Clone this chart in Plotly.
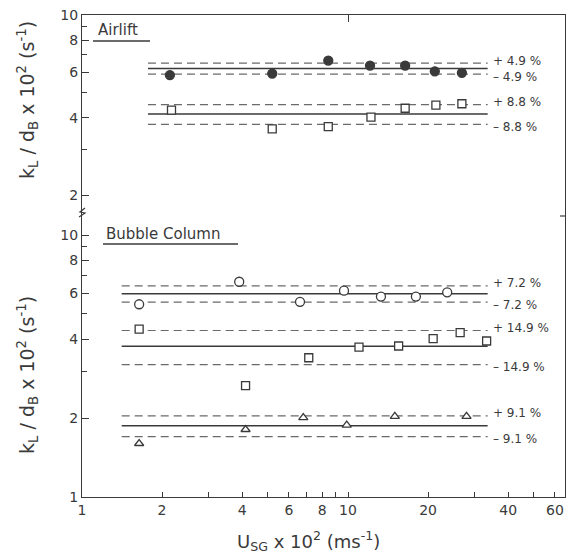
import numpy as np
import plotly.graph_objects as go

# ---------------- data ----------------
# Airlift
air_circ_x = [2.14, 5.19, 8.43, 12.1, 16.4, 21.2, 26.8]
air_circ_y = [5.85, 5.93, 6.66, 6.37, 6.37, 6.05, 5.97]
air_sq_x = [2.17, 5.19, 8.43, 12.2, 16.4, 21.4, 26.8]
air_sq_y = [4.28, 3.62, 3.69, 4.02, 4.35, 4.47, 4.53]
air_means = [6.2, 4.13]
air_pct = [4.9, 8.8]
air_span = [1.77, 33.5]

# Bubble column
bc_circ_x = [1.64, 3.90, 6.60, 9.66, 13.3, 18.0, 23.6]
bc_circ_y = [5.44, 6.63, 5.56, 6.13, 5.82, 5.82, 6.04]
bc_sq_x = [1.64, 4.12, 7.12, 11.0, 15.5, 20.9, 26.4, 33.2]
bc_sq_y = [4.37, 2.66, 3.40, 3.73, 3.77, 4.02, 4.24, 3.94]
bc_tri_x = [1.64, 4.12, 6.79, 9.89, 15.0, 27.9]
bc_tri_y = [1.60, 1.81, 2.01, 1.88, 2.03, 2.03]
bc_means = [5.97, 3.76, 1.87]
bc_pct = [7.2, 14.9, 9.1]
bc_span = [1.41, 33.5]

x_tickvals = [1, 2, 4, 6, 8, 10, 20, 40, 60]
x_minor = [3, 5, 7, 9, 30, 50]
top_y_ticks = [2, 4, 6, 8, 10]
bot_y_ticks = [1, 2, 4, 6, 8, 10]
y_minor = [3, 5, 7, 9]

# ---------------- style ----------------
FONT = "DejaVu Sans"
INK = "#3a3a3a"
DASHC = "#6a6a6a"
W, H = 567, 557
ML, MR, MT, MB = 82, 2, 15, 60
PW, PH = W - ML - MR, H - MT - MB
brk = (497 - 214) / PH  # paper y of the axis break

fig = go.Figure()

def band(xspan, mean, pct, xa, ya):
    fig.add_trace(go.Scatter(x=xspan, y=[mean, mean], mode="lines", xaxis=xa, yaxis=ya,
                             line=dict(color=INK, width=1.5), showlegend=False, hoverinfo="skip"))
    for s in (1, -1):
        v = mean * (1 + s * pct / 100)
        fig.add_trace(go.Scatter(x=xspan, y=[v, v], mode="lines", xaxis=xa, yaxis=ya,
                                 line=dict(color=DASHC, width=1.2, dash="8px,5px"),
                                 showlegend=False, hoverinfo="skip"))
        lab = ("+ " if s > 0 else "– ") + f"{pct} %"
        fig.add_annotation(x=np.log10(xspan[1]), y=np.log10(v), xref=xa, yref=ya,
                           text=lab, showarrow=False, xanchor="left", yanchor="middle",
                           xshift=3, yshift=2.5 * s,
                           font=dict(family=FONT, size=12, color=INK))

for m, p in zip(air_means, air_pct):
    band(air_span, m, p, "x2", "y2")
for m, p in zip(bc_means, bc_pct):
    band(bc_span, m, p, "x", "y")

def pts(x, y, sym, fill, xa, ya, size):
    fig.add_trace(go.Scatter(x=x, y=y, mode="markers", xaxis=xa, yaxis=ya, showlegend=False,
                             marker=dict(symbol=sym, size=size, color=fill,
                                         line=dict(color=INK, width=1.3))))

pts(air_circ_x, air_circ_y, "circle", INK, "x2", "y2", 9)
pts(air_sq_x, air_sq_y, "square", "white", "x2", "y2", 8)
pts(bc_circ_x, bc_circ_y, "circle", "white", "x", "y", 9)
pts(bc_sq_x, bc_sq_y, "square", "white", "x", "y", 8)
pts(bc_tri_x, bc_tri_y, "triangle-up", "white", "x", "y", 8)

xr = [0, PW / 266.0]
tickfont = dict(family=FONT, size=14, color=INK)

fig.update_layout(
    width=W, height=H, margin=dict(l=ML, r=MR, t=MT, b=MB),
    paper_bgcolor="white", plot_bgcolor="white", showlegend=False,
    xaxis=dict(domain=[0, 1], anchor="y", type="log", range=xr, showline=True,
               linecolor=INK, linewidth=1.3, showgrid=False, zeroline=False,
               ticks="inside", ticklen=5, tickcolor=INK, tickmode="array",
               tickvals=x_tickvals, ticktext=[str(v) for v in x_tickvals], tickfont=tickfont,
               minor=dict(tickmode="array", tickvals=x_minor, ticks="inside", ticklen=5,
                          tickcolor=INK, showgrid=False)),
    yaxis=dict(domain=[0, brk], anchor="x", type="log", range=[0, (497 - 214) / 262.0],
               showline=True, mirror=True, linecolor=INK, linewidth=1.3, showgrid=False,
               zeroline=False, ticks="inside", ticklen=7, tickcolor=INK, tickmode="array",
               tickvals=bot_y_ticks, ticktext=[str(v) for v in bot_y_ticks], tickfont=tickfont,
               minor=dict(tickmode="array", tickvals=y_minor, ticks="inside", ticklen=5,
                          tickcolor=INK, showgrid=False)),
    xaxis2=dict(domain=[0, 1], anchor="y2", side="top", type="log", range=xr, matches="x",
                showline=True, linecolor=INK, linewidth=1.3, showgrid=False, zeroline=False,
                ticks="inside", ticklen=7, tickcolor=INK, tickmode="array", tickvals=[10],
                showticklabels=False),
    yaxis2=dict(domain=[brk, 1], anchor="x2", type="log",
                range=[1 - (214 - 15) / 258.0, 1], showline=True, mirror=True,
                linecolor=INK, linewidth=1.3, showgrid=False, zeroline=False,
                ticks="inside", ticklen=7, tickcolor=INK, tickmode="array",
                tickvals=top_y_ticks, ticktext=[str(v) for v in top_y_ticks], tickfont=tickfont,
                minor=dict(tickmode="array", tickvals=y_minor, ticks="inside", ticklen=5,
                           tickcolor=INK, showgrid=False)),
)

px = 1.0 / PW
py = 1.0 / PH

# panel labels with underline
fig.add_annotation(xref="paper", yref="paper", x=(96 - ML) * px, y=(497 - 30) * py,
                   text="Airlift", showarrow=False, xanchor="left", yanchor="middle",
                   font=dict(family=FONT, size=15, color=INK))
fig.add_shape(type="line", xref="paper", yref="paper", x0=(93 - ML) * px, x1=(150 - ML) * px,
              y0=(497 - 41) * py, y1=(497 - 41) * py, line=dict(color=INK, width=1.5))
fig.add_annotation(xref="paper", yref="paper", x=(104 - ML) * px, y=(497 - 234) * py,
                   text="Bubble Column", showarrow=False, xanchor="left", yanchor="middle",
                   font=dict(family=FONT, size=15, color=INK))
fig.add_shape(type="line", xref="paper", yref="paper", x0=(103 - ML) * px, x1=(238 - ML) * px,
              y0=(497 - 244) * py, y1=(497 - 244) * py, line=dict(color=INK, width=1.5))

# axis titles
ytitle = "k<sub>L</sub> / d<sub>B</sub> x 10<sup>2</sup> (s<sup>-1</sup>)"
for yc in (100, 375):
    fig.add_annotation(xref="paper", yref="paper", x=0, xshift=-55, y=(497 - yc) * py,
                       text=ytitle, textangle=-90, showarrow=False, xanchor="center",
                       yanchor="middle", font=dict(family=FONT, size=19, color=INK))
fig.add_annotation(xref="paper", yref="paper", x=(308 - ML) * px, y=(497 - 541) * py,
                   text="U<sub>SG</sub> x 10<sup>2</sup> (ms<sup>-1</sup>)", showarrow=False,
                   xanchor="center", yanchor="middle", font=dict(family=FONT, size=18, color=INK))

# axis break marks
fig.add_shape(type="path", xref="paper", yref="paper",
              path=f"M {-3*px},{brk-3*py} L {3*px},{brk+1*py} L {-2*px},{brk+2*py} L {3*px},{brk+6*py}",
              line=dict(color=INK, width=1.2))
fig.add_shape(type="line", xref="paper", yref="paper", x0=1 - 5 * px, x1=1,
              y0=brk - 2 * py, y1=brk - 2 * py, line=dict(color=INK, width=1.2))

fig.write_html("out.html")
